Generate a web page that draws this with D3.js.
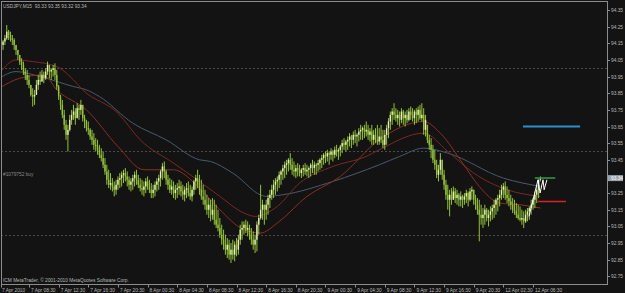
<!DOCTYPE html>
<html><head><meta charset="utf-8">
<script src="https://cdn.jsdelivr.net/npm/d3@7"></script>
<style>html,body{margin:0;padding:0;background:#131313;overflow:hidden}</style>
</head><body><svg id="c" width="625" height="293"></svg>
<script>
const symbolInfo = "USDJPY,M15  93.33 93.35 93.32 93.34";
const copyright = "ICM MetaTrader, \u00A9 2001-2010 MetaQuotes Software Corp.";
const orderLabel = "#1079752 buy";
const opens=[94.08,94.11,94.14,94.16,94.18,94.22,94.20,94.18,94.17,94.14,
94.11,94.08,94.04,94.02,93.98,93.96,93.93,93.90,93.84,93.83,
93.84,93.90,93.93,93.92,93.96,93.94,93.98,94.02,93.98,93.99,
94.00,93.96,93.89,93.83,93.78,93.72,93.66,93.60,93.63,93.69,
93.72,93.74,93.70,93.76,93.75,93.78,93.70,93.68,93.64,93.63,
93.59,93.57,93.54,93.53,93.51,93.48,93.46,93.42,93.38,93.33,
93.30,93.31,93.29,93.27,93.30,93.33,93.34,93.36,93.37,93.35,
93.33,93.30,93.32,93.34,93.36,93.33,93.30,93.28,93.27,93.29,
93.32,93.29,93.27,93.25,93.27,93.30,93.32,93.34,93.38,93.41,
93.38,93.33,93.30,93.27,93.29,93.25,93.27,93.28,93.29,93.26,
93.24,93.27,93.28,93.25,93.23,93.27,93.32,93.34,93.30,93.27,
93.23,93.21,93.18,93.15,93.18,93.12,93.15,93.09,93.06,93.04,
93.00,92.97,92.94,92.91,92.94,92.88,92.91,92.88,92.94,92.91,
92.97,93.03,93.04,93.06,93.03,93.04,93.00,92.97,92.94,92.97,
93.06,93.10,93.15,93.18,93.15,93.18,93.22,93.24,93.27,93.30,
93.32,93.33,93.36,93.38,93.40,93.42,93.43,93.45,93.42,93.39,
93.38,93.40,93.39,93.37,93.39,93.40,93.38,93.39,93.40,93.42,
93.40,93.42,93.42,93.43,93.45,93.46,93.48,93.47,93.49,93.48,
93.50,93.48,93.51,93.50,93.51,93.53,93.55,93.54,93.56,93.57,
93.59,93.57,93.60,93.59,93.60,93.62,93.63,93.64,93.62,93.63,
93.60,93.62,93.57,93.60,93.57,93.56,93.59,93.57,93.54,93.60,
93.64,93.68,93.72,93.74,93.72,93.70,93.72,93.69,93.74,93.70,
93.72,93.69,93.74,93.72,93.70,93.74,93.72,93.75,93.70,93.72,
93.63,93.66,93.57,93.54,93.51,93.45,93.42,93.36,93.39,93.45,
93.36,93.30,93.24,93.21,93.24,93.21,93.26,93.22,93.24,93.21,
93.23,93.21,93.23,93.25,93.21,93.26,93.27,93.21,93.18,93.15,
93.12,93.10,93.12,93.15,93.10,93.12,93.14,93.16,93.18,93.21,
93.22,93.24,93.27,93.29,93.24,93.22,93.20,93.18,93.15,93.14,
93.12,93.10,93.09,93.10,93.08,93.12,93.14,93.16,93.18,93.21,
93.24,93.27,93.33];
const highs=[94.14,94.16,94.17,94.20,94.26,94.23,94.22,94.20,94.18,94.14,
94.11,94.08,94.06,94.04,94.00,93.99,93.96,93.90,93.88,93.87,
93.93,93.96,93.98,93.99,93.98,94.00,94.04,94.02,94.00,94.02,
94.03,93.99,93.90,93.84,93.81,93.75,93.69,93.66,93.72,93.75,
93.78,93.76,93.79,93.78,93.81,93.78,93.72,93.69,93.68,93.64,
93.63,93.61,93.58,93.57,93.54,93.52,93.50,93.46,93.42,93.39,
93.37,93.34,93.32,93.33,93.35,93.37,93.38,93.39,93.40,93.38,
93.35,93.34,93.36,93.38,93.39,93.36,93.34,93.33,93.32,93.34,
93.35,93.33,93.31,93.30,93.32,93.34,93.36,93.39,93.43,93.44,
93.39,93.36,93.34,93.33,93.32,93.30,93.31,93.33,93.32,93.30,
93.29,93.31,93.32,93.30,93.29,93.33,93.36,93.39,93.36,93.33,
93.30,93.27,93.24,93.22,93.21,93.22,93.21,93.18,93.15,93.10,
93.06,93.03,93.00,92.98,92.97,92.95,92.97,92.96,92.98,93.00,
93.06,93.08,93.08,93.09,93.08,93.06,93.04,93.02,93.00,93.08,
93.12,93.30,93.21,93.18,93.21,93.24,93.27,93.30,93.33,93.34,
93.35,93.38,93.39,93.42,93.44,93.45,93.46,93.49,93.46,93.44,
93.42,93.43,93.42,93.40,93.42,93.43,93.42,93.41,93.43,93.45,
93.44,93.43,93.45,93.46,93.48,93.49,93.50,93.51,93.50,93.52,
93.51,93.53,93.54,93.52,93.54,93.57,93.58,93.57,93.59,93.61,
93.60,93.62,93.63,93.61,93.64,93.66,93.65,93.66,93.68,93.66,
93.64,93.66,93.63,93.64,93.66,93.64,93.66,93.63,93.63,93.66,
93.70,93.74,93.76,93.79,93.76,93.75,93.74,93.76,93.75,93.74,
93.75,93.76,93.77,93.76,93.75,93.76,93.77,93.78,93.79,93.76,
93.72,93.66,93.60,93.58,93.54,93.51,93.45,93.42,93.49,93.45,
93.39,93.33,93.30,93.27,93.28,93.29,93.28,93.27,93.25,93.26,
93.24,93.25,93.27,93.26,93.28,93.29,93.27,93.24,93.22,93.21,
93.18,93.16,93.18,93.16,93.15,93.17,93.18,93.21,93.22,93.24,
93.27,93.30,93.31,93.32,93.29,93.27,93.24,93.22,93.21,93.19,
93.18,93.17,93.15,93.14,93.15,93.16,93.17,93.21,93.22,93.26,
93.30,93.33,93.35];
const lows=[94.06,94.08,94.11,94.14,94.17,94.17,94.16,94.14,94.11,94.08,
94.05,94.02,93.99,93.96,93.93,93.90,93.88,93.83,93.77,93.78,
93.84,93.87,93.90,93.92,93.91,93.93,93.96,93.94,93.93,93.95,
93.93,93.87,93.81,93.75,93.70,93.63,93.57,93.50,93.62,93.66,
93.69,93.66,93.70,93.69,93.72,93.68,93.64,93.62,93.60,93.57,
93.54,93.51,93.50,93.48,93.46,93.44,93.40,93.36,93.30,93.28,
93.27,93.26,93.23,93.24,93.27,93.28,93.29,93.31,93.32,93.29,
93.27,93.26,93.27,93.29,93.30,93.28,93.26,93.24,93.23,93.25,
93.27,93.25,93.22,93.22,93.23,93.26,93.27,93.29,93.33,93.34,
93.30,93.27,93.25,93.24,93.22,93.21,93.22,93.24,93.23,93.21,
93.20,93.22,93.23,93.21,93.20,93.24,93.27,93.28,93.24,93.21,
93.18,93.15,93.12,93.10,93.08,93.09,93.06,93.04,93.02,92.98,
92.94,92.91,92.88,92.86,92.85,92.83,92.85,92.84,92.87,92.88,
92.94,92.97,93.00,93.01,92.99,92.97,92.94,92.91,92.89,92.90,
93.00,93.09,93.09,93.06,93.09,93.12,93.16,93.21,93.22,93.24,
93.26,93.28,93.30,93.33,93.34,93.36,93.38,93.39,93.36,93.35,
93.34,93.35,93.35,93.34,93.35,93.36,93.35,93.34,93.35,93.37,
93.36,93.36,93.38,93.39,93.40,93.42,93.43,93.44,93.42,93.45,
93.44,93.46,93.47,93.45,93.47,93.49,93.51,93.50,93.51,93.53,
93.52,93.54,93.55,93.53,93.56,93.57,93.57,93.58,93.59,93.57,
93.56,93.54,93.54,93.55,93.54,93.54,93.55,93.52,93.51,93.54,
93.58,93.63,93.66,93.69,93.68,93.66,93.65,93.67,93.66,93.65,
93.67,93.68,93.69,93.68,93.66,93.67,93.68,93.69,93.68,93.60,
93.59,93.55,93.51,93.46,93.43,93.39,93.34,93.32,93.36,93.33,
93.27,93.21,93.15,93.11,93.18,93.21,93.19,93.18,93.17,93.17,
93.16,93.18,93.19,93.17,93.20,93.21,93.18,93.15,93.12,92.96,
93.06,93.04,93.06,93.08,93.05,93.08,93.09,93.10,93.12,93.14,
93.17,93.21,93.22,93.21,93.19,93.17,93.15,93.13,93.12,93.10,
93.09,93.08,93.06,93.04,93.07,93.08,93.09,93.12,93.15,93.16,
93.19,93.22,93.32];
const closes=[94.11,94.14,94.16,94.18,94.22,94.20,94.18,94.17,94.14,94.11,
94.08,94.04,94.02,93.98,93.96,93.93,93.90,93.84,93.83,93.84,
93.90,93.93,93.92,93.96,93.94,93.98,94.02,93.98,93.99,94.00,
93.96,93.89,93.83,93.78,93.72,93.66,93.60,93.63,93.69,93.72,
93.74,93.70,93.76,93.75,93.78,93.70,93.68,93.64,93.63,93.59,
93.57,93.54,93.53,93.51,93.48,93.46,93.42,93.38,93.33,93.30,
93.31,93.29,93.27,93.30,93.33,93.34,93.36,93.37,93.35,93.33,
93.30,93.32,93.34,93.36,93.33,93.30,93.28,93.27,93.29,93.32,
93.29,93.27,93.25,93.27,93.30,93.32,93.34,93.38,93.41,93.38,
93.33,93.30,93.27,93.29,93.25,93.27,93.28,93.29,93.26,93.24,
93.27,93.28,93.25,93.23,93.27,93.32,93.34,93.30,93.27,93.23,
93.21,93.18,93.15,93.18,93.12,93.15,93.09,93.06,93.04,93.00,
92.97,92.94,92.91,92.94,92.88,92.91,92.88,92.94,92.91,92.97,
93.03,93.04,93.06,93.03,93.04,93.00,92.97,92.94,92.97,93.06,
93.10,93.15,93.18,93.15,93.18,93.22,93.24,93.27,93.30,93.32,
93.33,93.36,93.38,93.40,93.42,93.43,93.45,93.42,93.39,93.38,
93.40,93.39,93.37,93.39,93.40,93.38,93.39,93.40,93.42,93.40,
93.42,93.42,93.43,93.45,93.46,93.48,93.47,93.49,93.48,93.50,
93.48,93.51,93.50,93.51,93.53,93.55,93.54,93.56,93.57,93.59,
93.57,93.60,93.59,93.60,93.62,93.63,93.64,93.62,93.63,93.60,
93.62,93.57,93.60,93.57,93.56,93.59,93.57,93.54,93.60,93.64,
93.68,93.72,93.74,93.72,93.70,93.72,93.69,93.74,93.70,93.72,
93.69,93.74,93.72,93.70,93.74,93.72,93.75,93.70,93.72,93.63,
93.69,93.57,93.54,93.51,93.45,93.42,93.36,93.39,93.45,93.36,
93.30,93.24,93.21,93.24,93.21,93.26,93.22,93.24,93.21,93.23,
93.21,93.23,93.25,93.21,93.26,93.27,93.21,93.18,93.15,93.12,
93.10,93.12,93.15,93.10,93.12,93.14,93.16,93.18,93.21,93.22,
93.24,93.27,93.29,93.24,93.22,93.20,93.18,93.15,93.14,93.12,
93.10,93.09,93.10,93.08,93.12,93.14,93.16,93.18,93.21,93.24,
93.27,93.33,93.34];
const xTickBars=[0,16,32,48,64,80,96,112,128,144,160,176,192,208,224,240,256,272,288];
const xTickLabels=["7 Apr 2010","7 Apr 08:30","7 Apr 12:30","7 Apr 16:30","7 Apr 20:30","8 Apr 00:30","8 Apr 04:30","8 Apr 08:30","8 Apr 12:30","8 Apr 16:30","8 Apr 20:30","9 Apr 00:30","9 Apr 04:30","9 Apr 08:30","9 Apr 12:30","9 Apr 16:30","9 Apr 20:30","12 Apr 02:30","12 Apr 06:30"];
const yTicks=[94.35,94.25,94.15,94.05,93.95,93.85,93.75,93.65,93.55,93.45,93.25,93.15,93.05,92.95,92.85,92.75];
const gridLevels=[94.0,93.5,93.0];
const currentPrice=93.34;
const maFastBars=[0,11,24,31,47,64,78,94,108,119,132,141,150,166,184,205,229,238,250,259,270,281,292];
const maFastVals=[93.88,93.94,93.96,93.87,93.75,93.53,93.39,93.39,93.28,93.15,93.03,93.01,93.07,93.23,93.35,93.57,93.68,93.61,93.43,93.29,93.19,93.18,93.16];
const maMidBars=[0,9,18,31,40,45,64,76,94,108,119,132,138,150,162,180,198,205,229,242,256,274,292];
const maMidVals=[93.97,94.05,94.04,94.01,93.93,93.87,93.73,93.57,93.43,93.32,93.23,93.13,93.11,93.17,93.31,93.41,93.47,93.51,93.61,93.50,93.37,93.27,93.23];
const maSlowBars=[0,9,22,40,47,54,72,90,108,114,126,144,153,180,205,216,229,242,272,292];
const maSlowVals=[93.94,93.98,93.95,93.89,93.87,93.83,93.67,93.57,93.45,93.44,93.37,93.23,93.24,93.32,93.42,93.47,93.52,93.49,93.34,93.29];
const zigzagBars=[285.8,290.7,291.8,293.4,294,295.5];
const zigzagVals=[93.11,93.33,93.25,93.33,93.27,93.33];
const levelLines=[{from:282.6,to:313.4,price:93.65,color:"#2a8fd0",w:2},{from:289,to:300,price:93.34,color:"#2f9e48",w:1.5},{from:290.7,to:305.8,price:93.20,color:"#d82222",w:1.5}];

const W=625,H=293, L=1, R=607.5, T=1.5, B=284.5;
const svg=d3.select("#c");
svg.append("rect").attr("width",W).attr("height",H).attr("fill","#131313");
const x=d3.scaleLinear().domain([0,292]).range([-0.65,-0.65+292*1.853]);
const y=d3.scaleLinear().domain([92.75,94.35]).range([276.3,10]);
const font="'Liberation Sans', Arial, sans-serif";
const txt="#b8b8b8";
const fs=4.8;

svg.append("defs").append("clipPath").attr("id","clip").append("rect").attr("x",L).attr("y",T).attr("width",R-L).attr("height",B-T);
const plot=svg.append("g").attr("clip-path","url(#clip)");

plot.selectAll("line.grid").data(gridLevels).join("line").attr("class","grid")
 .attr("x1",L).attr("x2",R).attr("y1",d=>Math.round(y(d))+0.5).attr("y2",d=>Math.round(y(d))+0.5)
 .attr("stroke","#4a4a4a").attr("stroke-dasharray","2,2").attr("stroke-width",1);

const line=d3.line().x(d=>x(d[0])).y(d=>y(d[1])).curve(d3.curveMonotoneX);
const mas=[[maSlowBars,maSlowVals,"#4a5a6b"],[maMidBars,maMidVals,"#7a2a22"],[maFastBars,maFastVals,"#8c2e24"]];
mas.forEach(([b,v,c])=>{
  plot.append("path").attr("d",line(b.map((bi,k)=>[bi,v[k]]))).attr("fill","none").attr("stroke",c).attr("stroke-width",1);
});

const bars=d3.range(opens.length);
plot.selectAll("line.wick").data(bars).join("line").attr("class","wick")
 .attr("x1",i=>x(i)).attr("x2",i=>x(i)).attr("y1",i=>y(highs[i])).attr("y2",i=>y(lows[i]))
 .attr("stroke","#93c23a").attr("stroke-width",1);
plot.selectAll("rect.body").data(bars).join("rect").attr("class","body")
 .attr("x",i=>x(i)-0.7).attr("width",1.4)
 .attr("y",i=>y(Math.max(opens[i],closes[i])))
 .attr("height",i=>Math.max(0.8,Math.abs(y(opens[i])-y(closes[i]))))
 .attr("fill",i=>closes[i]>=opens[i]?"#e6ecb8":"#93c23a");

plot.append("path").attr("d",d3.line().x(d=>x(d[0])).y(d=>y(d[1]))(zigzagBars.map((b,k)=>[b,zigzagVals[k]])))
 .attr("fill","none").attr("stroke","#ffffff").attr("stroke-width",1);

plot.selectAll("line.lvl").data(levelLines).join("line").attr("class","lvl")
 .attr("x1",d=>x(d.from)).attr("x2",d=>x(d.to)).attr("y1",d=>y(d.price)).attr("y2",d=>y(d.price))
 .attr("stroke",d=>d.color).attr("stroke-width",d=>d.w);

svg.append("rect").attr("x",L+0.5).attr("y",T).attr("width",R-L-0.5).attr("height",B-T)
 .attr("fill","none").attr("stroke","#8c8c8c").attr("stroke-width",1);

const ya=svg.append("g");
ya.selectAll("line").data(yTicks).join("line").attr("x1",R).attr("x2",R+2.5)
 .attr("y1",d=>Math.round(y(d))+0.5).attr("y2",d=>Math.round(y(d))+0.5).attr("stroke","#8c8c8c");
ya.selectAll("text").data(yTicks).join("text").attr("x",R+3.5).attr("y",d=>y(d)+2)
 .attr("fill",txt).attr("font-family",font).attr("font-size",fs).text(d=>d.toFixed(2));
svg.append("rect").attr("x",R+0.5).attr("y",y(currentPrice)-3).attr("width",15).attr("height",6).attr("fill","#9aa4ae");
svg.append("text").attr("x",R+3.5).attr("y",y(currentPrice)+2).attr("fill","#ffffff").attr("font-family",font).attr("font-size",fs).text(currentPrice.toFixed(2));

const xa=svg.append("g");
xa.selectAll("line").data(xTickBars).join("line").attr("x1",d=>Math.max(L+0.5,Math.round(x(d))+0.5)).attr("x2",d=>Math.max(L+0.5,Math.round(x(d))+0.5))
 .attr("y1",B).attr("y2",B+3).attr("stroke","#8c8c8c");
xa.selectAll("text").data(xTickBars).join("text").attr("x",d=>Math.max(L+1,x(d)+2)).attr("y",B+7)
 .attr("fill",txt).attr("font-family",font).attr("font-size",fs).text((d,k)=>xTickLabels[k]);

svg.append("text").attr("x",3).attr("y",8).attr("fill",txt).attr("font-family",font).attr("font-size",fs).attr("xml:space","preserve").text(symbolInfo);
svg.append("text").attr("x",3).attr("y",282).attr("fill",txt).attr("font-family",font).attr("font-size",fs).text(copyright);
svg.append("text").attr("x",3).attr("y",176).attr("fill","#8a8a8a").attr("font-family",font).attr("font-size",fs).text(orderLabel);
</script></body></html>
